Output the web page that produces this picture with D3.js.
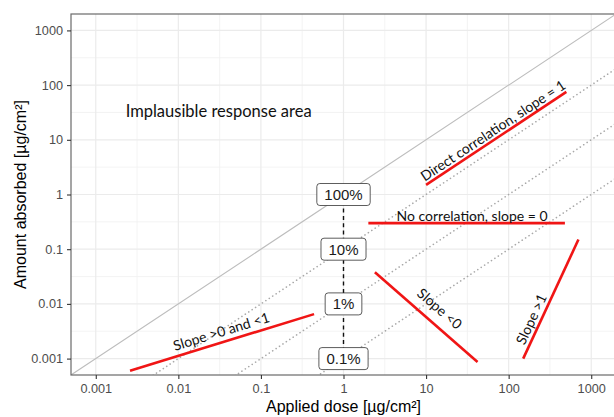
<!DOCTYPE html>
<html>
<head>
<meta charset="utf-8">
<script src="https://cdn.jsdelivr.net/npm/d3@7"></script>
<style>
    body { margin: 0; background: #ffffff; }
    svg { display: block; }
</style>
</head>
<body>
<svg id="chart" width="614" height="417"></svg>
<script>
// axis breaks (both axes use the same log breaks)
var tickValues = [0.001, 0.01, 0.1, 1, 10, 100, 1000];
var tickLabels = ["0.001", "0.01", "0.1", "1", "10", "100", "1000"];

// reference lines: absorbed = fraction * applied
var refFractions = [1, 0.1, 0.01, 0.001];
var refLabels = ["100%", "10%", "1%", "0.1%"];

// red example segments
var segNames = ["Direct correlation, slope = 1", "No correlation, slope = 0", "Slope <0", "Slope >1", "Slope >0 and <1"];
var segX0 = [10, 2, 2.4, 150, 0.0026];
var segY0 = [1.5, 0.3, 0.038, 0.001, 0.0006];
var segX1 = [500, 480, 42, 700, 0.44];
var segY1 = [75, 0.3, 0.00087, 0.15, 0.0065];

// where each segment's caption sits (data units)
var noteX = [64, 36, 14.7, 186, 0.033];
var noteY = [15, 0.42, 0.0083, 0.0053, 0.0032];

var areaText = "Implausible response area";
var areaX = 0.0023, areaY = 33;

var svg = d3.select("#chart");
var width = 614, height = 417;
var pLeft = 71, pRight = 616, pTop = 14, pBottom = 375;

// ggplot style 5% expansion on the log scale
var lo = Math.log10(tickValues[0]), hi = Math.log10(tickValues[tickValues.length - 1]);
var pad = (hi - lo) * 0.05;
var domain = [Math.pow(10, lo - pad), Math.pow(10, hi + pad)];

var x = d3.scaleLog().domain(domain).range([pLeft, pRight]);
var y = d3.scaleLog().domain(domain).range([pBottom, pTop]);

svg.append("rect").attr("width", width).attr("height", height).attr("fill", "#ffffff");

var defs = svg.append("defs");
defs.append("clipPath").attr("id", "panelClip")
    .append("rect")
    .attr("x", pLeft).attr("y", pTop)
    .attr("width", pRight - pLeft).attr("height", pBottom - pTop);

var panel = svg.append("g").attr("clip-path", "url(#panelClip)");

// minor breaks halfway between majors
var minorValues = [];
for (var i = 0; i < tickValues.length - 1; i++) {
    minorValues.push(Math.sqrt(tickValues[i] * tickValues[i + 1]));
}

panel.selectAll(".minorX").data(minorValues).enter().append("line")
    .attr("x1", function (d) { return x(d); }).attr("x2", function (d) { return x(d); })
    .attr("y1", pTop).attr("y2", pBottom)
    .style("stroke", "#f0f0f0").style("stroke-width", 0.8);
panel.selectAll(".minorY").data(minorValues).enter().append("line")
    .attr("y1", function (d) { return y(d); }).attr("y2", function (d) { return y(d); })
    .attr("x1", pLeft).attr("x2", pRight)
    .style("stroke", "#f0f0f0").style("stroke-width", 0.8);
panel.selectAll(".majorX").data(tickValues).enter().append("line")
    .attr("x1", function (d) { return x(d); }).attr("x2", function (d) { return x(d); })
    .attr("y1", pTop).attr("y2", pBottom)
    .style("stroke", "#ebebeb").style("stroke-width", 1.2);
panel.selectAll(".majorY").data(tickValues).enter().append("line")
    .attr("y1", function (d) { return y(d); }).attr("y2", function (d) { return y(d); })
    .attr("x1", pLeft).attr("x2", pRight)
    .style("stroke", "#ebebeb").style("stroke-width", 1.2);

// identity line and the dotted fraction lines
panel.selectAll(".ref").data(refFractions).enter().append("line")
    .attr("x1", function (d) { return x(domain[0]); })
    .attr("y1", function (d) { return y(domain[0] * d); })
    .attr("x2", function (d) { return x(domain[1]); })
    .attr("y2", function (d) { return y(domain[1] * d); })
    .style("stroke", function (d, i) { return i === 0 ? "#bdbdbd" : "#a9a9a9"; })
    .style("stroke-width", function (d, i) { return i === 0 ? 1.1 : 1.6; })
    .style("stroke-linecap", "round")
    .style("stroke-dasharray", function (d, i) { return i === 0 ? null : "0.1,4"; });

// vertical dashed line at applied dose = 1
panel.append("line")
    .attr("x1", x(1)).attr("x2", x(1))
    .attr("y1", y(refFractions[refFractions.length - 1])).attr("y2", y(refFractions[0]))
    .style("stroke", "#111111").style("stroke-width", 1.4)
    .style("stroke-dasharray", "4,3.3");

// red segments
panel.selectAll(".seg").data(segNames).enter().append("line")
    .attr("x1", function (d, i) { return x(segX0[i]); })
    .attr("y1", function (d, i) { return y(segY0[i]); })
    .attr("x2", function (d, i) { return x(segX1[i]); })
    .attr("y2", function (d, i) { return y(segY1[i]); })
    .style("stroke", "#f01515").style("stroke-width", 2.6);

// captions rotated along their segment
var notes = svg.append("g");
segNames.forEach(function (name, i) {
    var dx = x(segX1[i]) - x(segX0[i]), dy = y(segY1[i]) - y(segY0[i]);
    var ang = Math.atan2(dy, dx) * 180 / Math.PI;
    if (ang > 90) ang -= 180;
    if (ang < -90) ang += 180;
    notes.append("text")
        .attr("transform", "translate(" + x(noteX[i]) + "," + y(noteY[i]) + ") rotate(" + ang + ")")
        .attr("text-anchor", "middle")
        .attr("dominant-baseline", "central")
        .style("font-family", "Lato, 'Open Sans', sans-serif")
        .style("font-size", "14px")
        .style("fill", "#111111")
        .text(name);
});

notes.append("text")
    .attr("x", x(areaX)).attr("y", y(areaY))
    .attr("dominant-baseline", "central")
    .style("font-family", "Lato, 'Open Sans', sans-serif")
    .style("font-size", "16.5px")
    .style("fill", "#111111")
    .text(areaText);

// percent labels on the dashed line
var labG = svg.append("g");
refFractions.forEach(function (f, i) {
    var g = labG.append("g").attr("transform", "translate(" + x(1) + "," + y(f) + ")");
    var box = g.append("rect");
    var t = g.append("text")
        .attr("text-anchor", "middle")
        .attr("dominant-baseline", "central")
        .style("font-family", "'Liberation Sans', Arial, sans-serif")
        .style("font-size", "15px")
        .style("fill", "#1a1a1a")
        .text(refLabels[i]);
    var w = t.node().getComputedTextLength() + 15;
    box.attr("x", -w / 2).attr("y", -11).attr("width", w).attr("height", 22)
        .attr("rx", 3).attr("ry", 3)
        .style("fill", "#ffffff").style("stroke", "#333333").style("stroke-width", 0.8);
});

// panel border
svg.append("rect")
    .attr("x", pLeft).attr("y", pTop)
    .attr("width", pRight - pLeft).attr("height", pBottom - pTop)
    .style("fill", "none").style("stroke", "#6a6a6a").style("stroke-width", 1.2);

// axes
var xAxis = svg.append("g").attr("transform", "translate(0," + pBottom + ")")
    .call(d3.axisBottom(x).tickValues(tickValues)
        .tickFormat(function (d, i) { return tickLabels[i]; })
        .tickSize(4).tickPadding(5));
var yAxis = svg.append("g").attr("transform", "translate(" + pLeft + ",0)")
    .call(d3.axisLeft(y).tickValues(tickValues)
        .tickFormat(function (d, i) { return tickLabels[i]; })
        .tickSize(4).tickPadding(4));

[xAxis, yAxis].forEach(function (a) {
    a.select(".domain").remove();
    a.selectAll(".tick line").style("stroke", "#333333").style("stroke-width", 1.1);
    a.selectAll(".tick text")
        .style("font-family", "'Liberation Sans', Arial, sans-serif")
        .style("font-size", "12.7px")
        .style("fill", "#4d4d4d");
});

svg.append("text")
    .attr("x", (pLeft + pRight) / 2).attr("y", 412)
    .attr("text-anchor", "middle")
    .style("font-family", "'Liberation Sans', Arial, sans-serif")
    .style("font-size", "16px")
    .style("fill", "#000000")
    .text("Applied dose [µg/cm²]");

svg.append("text")
    .attr("transform", "translate(26," + ((pTop + pBottom) / 2) + ") rotate(-90)")
    .attr("text-anchor", "middle")
    .style("font-family", "'Liberation Sans', Arial, sans-serif")
    .style("font-size", "16px")
    .style("fill", "#000000")
    .text("Amount absorbed [µg/cm²]");
</script>
</body>
</html>
